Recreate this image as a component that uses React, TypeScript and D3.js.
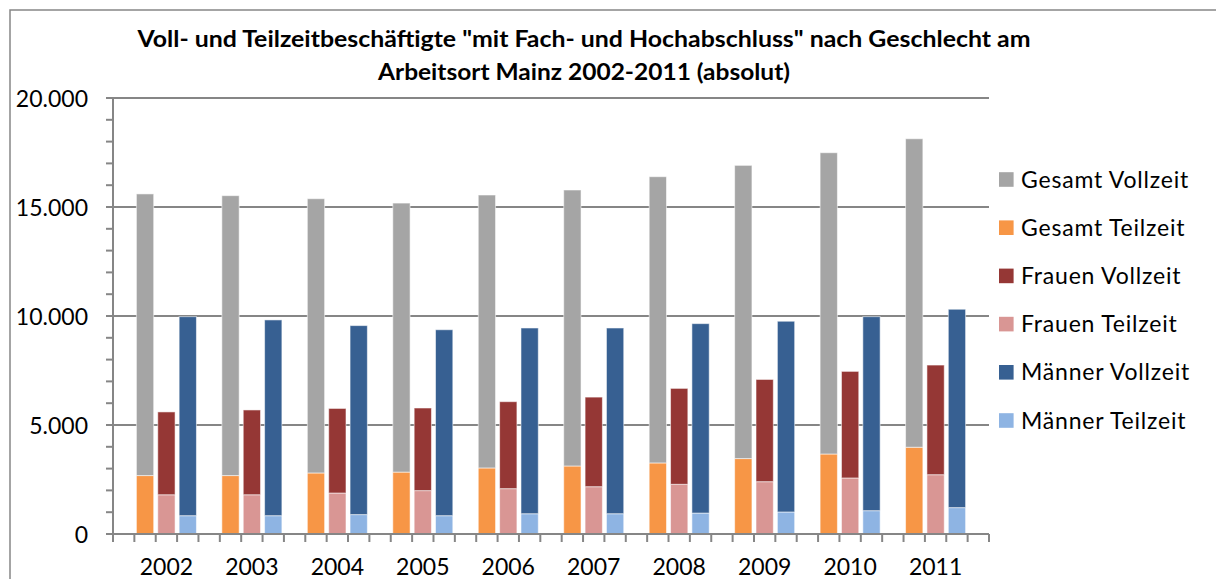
import React from "react";
import * as d3 from "d3";

const years = ["2002", "2003", "2004", "2005", "2006", "2007", "2008", "2009", "2010", "2011"];
const gesamtVollzeit = [12920, 12840, 12580, 12340, 12520, 12660, 13130, 13450, 13820, 14150];
const gesamtTeilzeit = [2680, 2680, 2800, 2840, 3030, 3120, 3260, 3460, 3670, 3980];
const frauenVollzeit = [3800, 3890, 3880, 3790, 3990, 4110, 4400, 4690, 4890, 5030];
const frauenTeilzeit = [1800, 1800, 1880, 1990, 2080, 2170, 2280, 2400, 2570, 2720];
const maennerVollzeit = [9130, 8980, 8670, 8530, 8520, 8520, 8690, 8750, 8900, 9100];
const maennerTeilzeit = [840, 840, 890, 840, 930, 930, 960, 1010, 1070, 1210];
const yTicks = [0, 5000, 10000, 15000, 20000];
const titleLines = [
  'Voll- und Teilzeitbeschäftigte "mit Fach- und Hochabschluss" nach Geschlecht am',
  "Arbeitsort Mainz 2002-2011 (absolut)",
];
const legendItems = [
  { label: "Gesamt Vollzeit", color: "#A5A5A5" },
  { label: "Gesamt Teilzeit", color: "#F79646" },
  { label: "Frauen Vollzeit", color: "#953735" },
  { label: "Frauen Teilzeit", color: "#D99694" },
  { label: "Männer Vollzeit", color: "#376092" },
  { label: "Männer Teilzeit", color: "#8EB4E3" },
];

const groups = [
  { teil: gesamtTeilzeit, voll: gesamtVollzeit, cTeil: "#F79646", cVoll: "#A5A5A5" },
  { teil: frauenTeilzeit, voll: frauenVollzeit, cTeil: "#D99694", cVoll: "#953735" },
  { teil: maennerTeilzeit, voll: maennerVollzeit, cTeil: "#8EB4E3", cVoll: "#376092" },
];

const W = 1216;
const H = 579;
const left = 113;
const right = 989;
const top = 98;
const bottom = 534;
const nSlots = years.length * 4 + 1;
const FONT = "Lato, 'Open Sans', sans-serif";
const AX = "#868686";

export default function App() {
  const x = d3
    .scaleBand<number>()
    .domain(d3.range(nSlots))
    .range([left, right])
    .paddingInner(0.19)
    .paddingOuter(0.095);
  const step = x.step();
  const y = d3.scaleLinear().domain([0, 20000]).range([bottom, top]);

  const rows: { slot: number; teil: number; voll: number; cTeil: string; cVoll: string }[] = [];
  years.forEach((_, i) => {
    groups.forEach((g, j) => {
      rows.push({ slot: i * 4 + 1 + j, teil: g.teil[i], voll: g.voll[i], cTeil: g.cTeil, cVoll: g.cVoll });
    });
  });
  const stacked = d3.stack<any>().keys(["teil", "voll"])(rows as any);

  const minorTicks = d3.range(0, 20001, 1000);
  const slotTicks = d3.range(nSlots + 1).map((i) => left + i * step);

  return (
    <div style={{ position: "absolute", left: 0, top: 0 }}>
      <svg width={W} height={H} style={{ display: "block", background: "#fff" }}>
        <rect x={10} y={10} width={W} height={H} fill="#fff" stroke={AX} strokeWidth={1.5} />
        {titleLines.map((t, i) => (
          <text
            key={i}
            x={584}
            y={47 + i * 33}
            textAnchor="middle"
            fontFamily={FONT}
            fontWeight="bold"
            fontSize={23}
            textLength={i === 0 ? 893 : 412}
            lengthAdjust="spacingAndGlyphs"
            fill="#000"
          >
            {t}
          </text>
        ))}
        {yTicks.map((v) => (
          <line key={"g" + v} x1={left} x2={right} y1={y(v)} y2={y(v)} stroke={AX} strokeWidth={2} />
        ))}
        {stacked.map((layer, li) =>
          layer.map((d: any, k: number) => {
            const r = rows[k];
            const y0 = y(d[0]);
            const y1 = y(d[1]);
            return (
              <rect
                key={li + "-" + k}
                x={x(r.slot)}
                y={y1}
                width={x.bandwidth()}
                height={y0 - y1}
                fill={li === 0 ? r.cTeil : r.cVoll}
                stroke="#ffffff"
                strokeOpacity={0.55}
                strokeWidth={1}
              />
            );
          })
        )}
        <line x1={left} x2={left} y1={top} y2={bottom} stroke={AX} strokeWidth={2} />
        <line x1={left - 1} x2={right} y1={bottom} y2={bottom} stroke={AX} strokeWidth={2} />
        {minorTicks.map((v) => (
          <line key={"t" + v} x1={left - 7} x2={left} y1={y(v)} y2={y(v)} stroke={AX} strokeWidth={2} />
        ))}
        {slotTicks.map((px, i) => (
          <line key={"s" + i} x1={px} x2={px} y1={bottom} y2={bottom + 8} stroke={AX} strokeWidth={2} />
        ))}
        {yTicks.map((v) => (
          <text
            key={"l" + v}
            x={88}
            y={y(v) + 8.5}
            textAnchor="end"
            fontFamily={FONT}
            fontSize={23}
            fill="#000"
          >
            {d3.format(",")(v).replace(/,/g, ".")}
          </text>
        ))}
        {years.map((yr, i) => (
          <text
            key={yr}
            x={(x(i * 4 + 2) as number) + x.bandwidth() / 2}
            y={575}
            textAnchor="middle"
            fontFamily={FONT}
            fontSize={23}
            fill="#000"
          >
            {yr}
          </text>
        ))}
        {legendItems.map((it, i) => {
          const cy = 179.5 + i * 48.2;
          return (
            <g key={it.label}>
              <rect x={999} y={cy - 7.3} width={14.6} height={14.6} fill={it.color} />
              <text x={1021} y={cy + 8} fontFamily={FONT} fontSize={23} letterSpacing={0.8} fill="#000">
                {it.label}
              </text>
            </g>
          );
        })}
      </svg>
    </div>
  );
}
